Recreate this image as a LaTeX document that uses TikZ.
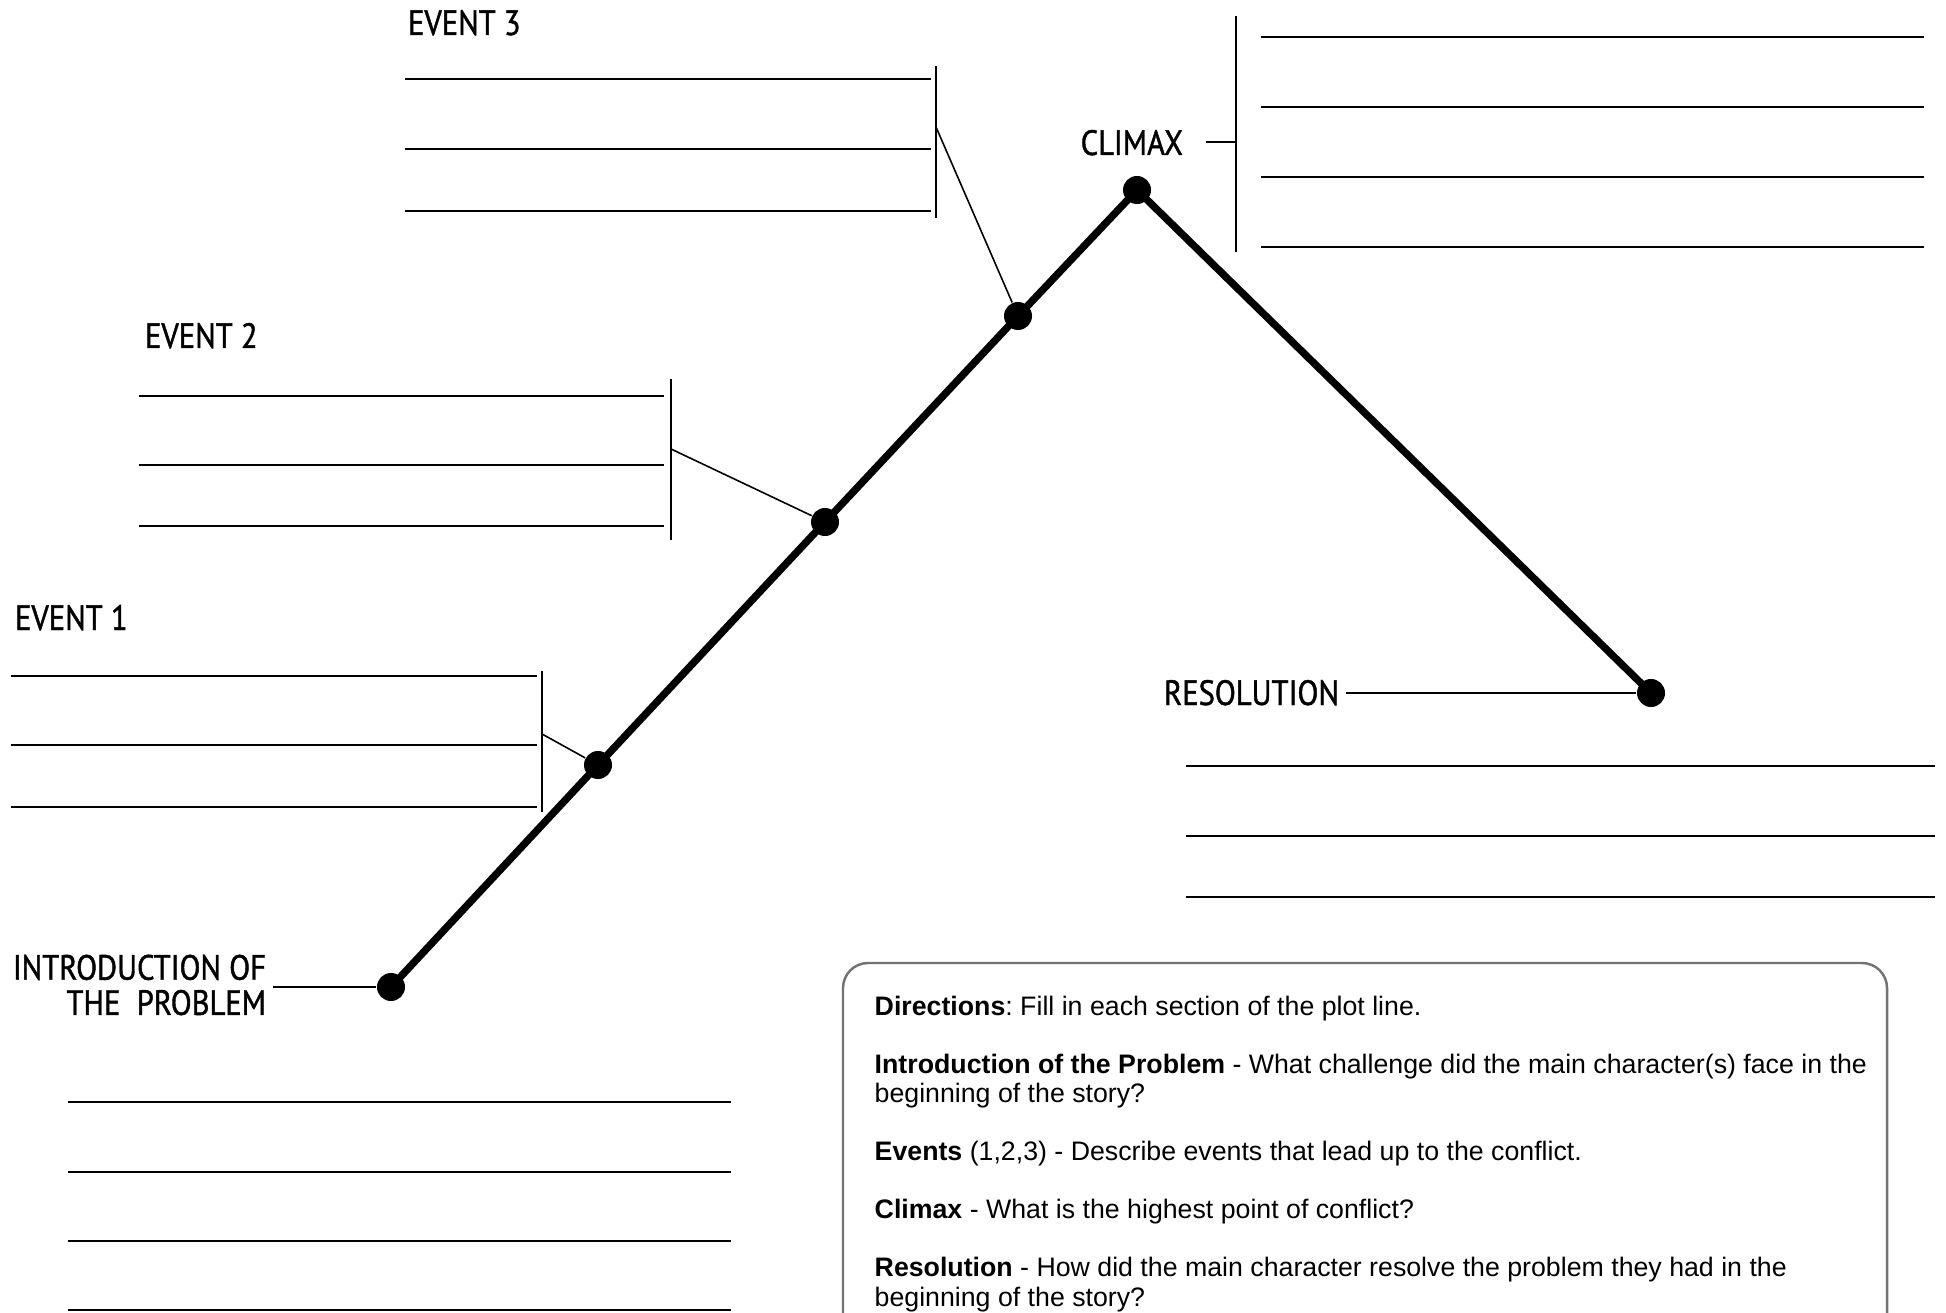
\documentclass[tikz,border=0pt]{standalone}
\usepackage{fontspec}
\setmainfont{Liberation Sans}
\newfontfamily\handfont[FakeStretch=0.87, FakeBold=1.2]{PT Sans}
\usetikzlibrary{positioning}

\begin{document}
\frenchspacing
\begin{tikzpicture}[x=0.01cm, y=-0.01cm,
						dot/.style={circle, fill=black, inner sep=0pt, minimum size=0.28cm},
						plotline/.style={line width=2.1pt, line join=round},
						blank/.style={line width=0.65pt},
						bar/.style={line width=0.45pt},
						tag/.style={font=\handfont\fontsize{10}{10}\selectfont, inner sep=0pt, outer sep=2pt},
						infobox/.style={draw=black!55, line width=0.7pt, rounded corners=0.25cm},
						every edge/.append style={draw, line width=0.45pt},]
		\useasboundingbox (0,0) rectangle (1946,1313);

		% plot points
		\node (intro) [dot] at (391,987) {};
		\node (ev1) [dot] at (598,765) {};
		\node (ev2) [dot] at (825,522) {};
		\node (ev3) [dot] at (1018,316) {};
		\node (climax) [dot] at (1137,190) {};
		\node (res) [dot] at (1651,693) {};
		\draw[plotline] (intro.center) -- (ev1.center) -- (ev2.center) -- (ev3.center) -- (climax.center) -- (res.center);

		% labels
		\node (ev3_lbl) [tag, anchor=base west] at (401,35) {EVENT 3};
		\node (ev2_lbl) [tag, anchor=base west] at (138,348) {EVENT 2};
		\node (ev1_lbl) [tag, anchor=base west] at (8,630) {EVENT 1};
		\node (clim_lbl) [tag, anchor=base east] at (1190,155) {CLIMAX};
		\node (res_lbl) [tag, anchor=base east] at (1346,705) {RESOLUTION};
		\node (intro_lbl) [tag, anchor=east, align=right] at (273,985) {INTRODUCTION OF\\THE \ PROBLEM};

		% writing lines
		\draw[blank] (405,79) -- (931,79) (405,149) -- (931,149) (405,211) -- (931,211);
		\draw[blank] (139,396) -- (664,396) (139,465) -- (664,465) (139,526) -- (664,526);
		\draw[blank] (11,676) -- (537,676) (11,745) -- (537,745) (11,807) -- (537,807);
		\draw[blank] (1261,37) -- (1924,37) (1261,107) -- (1924,107) (1261,177) -- (1924,177) (1261,247) -- (1924,247);
		\draw[blank] (1186,766) -- (1935,766) (1186,836) -- (1935,836) (1186,897) -- (1935,897);
		\draw[blank] (68,1102) -- (731,1102) (68,1172) -- (731,1172) (68,1241) -- (731,1241) (68,1310) -- (731,1310);

		% brackets
		\draw[bar] (936,66) -- (936,218);
		\draw[bar] (671,379) -- (671,540);
		\draw[bar] (542,671) -- (542,812);
		\draw[bar] (1236,16) -- (1236,252);
		\coordinate (ev3bar) at (936,127);
		\coordinate (ev2bar) at (671,449);
		\coordinate (ev1bar) at (542,734);
		\coordinate (climtick) at (1206,142);
		\coordinate (climbar) at (1236,142);

		\path 	(ev1bar) edge (ev1)
				(ev2bar) edge (ev2)
				(ev3bar) edge (ev3)
				(climtick) edge[line width=0.65pt] (climbar)
				(res_lbl.east |- res) edge[line width=0.65pt] (res)
				(intro_lbl.east |- intro) edge[line width=0.65pt] (intro);

		% directions box
		\draw[infobox] (843,1313) -- (843,963) -- (1887,963) -- (1887,1313);
		\node (directions) [anchor=north west, inner sep=0pt, align=left, font=\fontsize{7.6}{8.4}\selectfont] at (874,995) {\textbf{Directions}: Fill in each section of the plot line.\\[8.1pt]
			\textbf{Introduction of the Problem} - What challenge did the main character(s) face in the\\
			beginning of the story?\\[8.1pt]
			\textbf{Events} (1,2,3) - Describe events that lead up to the conflict.\\[8.1pt]
			\textbf{Climax} - What is the highest point of conflict?\\[8.1pt]
			\textbf{Resolution} - How did the main character resolve the problem they had in the\\
			beginning of the story?};
	\end{tikzpicture}
\end{document}
